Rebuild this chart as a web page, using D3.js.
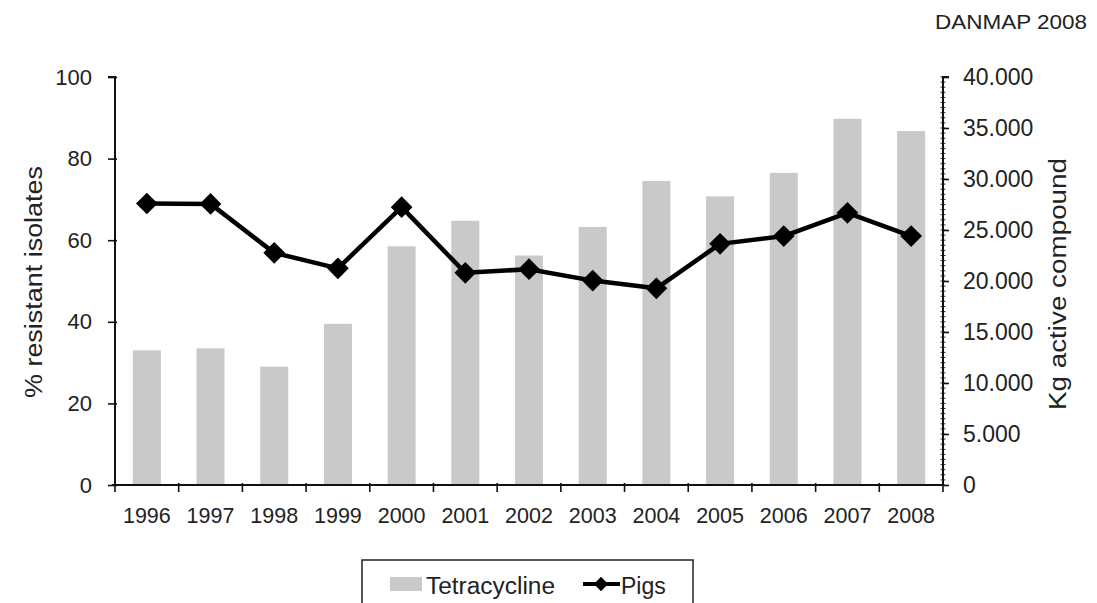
<!DOCTYPE html>
<html>
<head>
<meta charset="utf-8">
<script src="https://cdn.jsdelivr.net/npm/d3@7/dist/d3.min.js"></script>
<style>
  html, body { margin: 0; padding: 0; background: #fff; }
  svg { display: block; }
  text { font-family: "Liberation Sans", Arial, sans-serif; fill: #222; }
</style>
</head>
<body>
<svg id="chart" width="1097" height="603"></svg>
<script>
// Tetracycline use (kg active compound) and resistance in pigs (%)
const years = ["1996", "1997", "1998", "1999", "2000", "2001", "2002",
               "2003", "2004", "2005", "2006", "2007", "2008"];
const tetracyclineKg = [13200, 13400, 11600, 15800, 23400, 25900, 22500,
                        25300, 29800, 28300, 30600, 35900, 34700];
const pigsPct = [69.0, 68.9, 56.9, 53.1, 68.1, 52.0, 52.9,
                 50.1, 48.2, 59.1, 61.0, 66.7, 61.0];
const leftTicks = [0, 20, 40, 60, 80, 100];
const rightTicks = [0, 5000, 10000, 15000, 20000, 25000, 30000, 35000, 40000];
const seriesNames = ["Tetracycline", "Pigs"];
const sourceLabel = "DANMAP 2008";
const leftTitle = "% resistant isolates";
const rightTitle = "Kg active compound";

const svg = d3.select("#chart");
const plot = { left: 115, right: 943, top: 77, bottom: 485 };

const x = d3.scaleBand().domain(years)
  .range([plot.left, plot.right]).paddingInner(0.56).paddingOuter(0.28);
const yL = d3.scaleLinear().domain([0, 100]).range([plot.bottom, plot.top]);
const yR = d3.scaleLinear().domain([0, 40000]).range([plot.bottom, plot.top]);
const cx = d => x(d) + x.bandwidth() / 2;

const dk = d3.formatLocale({ decimal: ",", thousands: ".", grouping: [3], currency: ["", ""] });
const fmtKg = dk.format(",");

// Bars: tetracycline consumption on the right axis
svg.append("g").selectAll("rect").data(years).join("rect")
  .attr("x", d => x(d))
  .attr("width", x.bandwidth())
  .attr("y", (d, i) => yR(tetracyclineKg[i]))
  .attr("height", (d, i) => yR(0) - yR(tetracyclineKg[i]))
  .attr("fill", "#c9c9c9");

// Left axis
const gL = svg.append("g").attr("transform", `translate(${plot.left},0)`)
  .call(d3.axisLeft(yL).tickValues(leftTicks).tickSize(7).tickPadding(16));
gL.select(".domain").attr("d", `M-7,${plot.top}H0V${plot.bottom}`)
  .attr("stroke", "#111").attr("stroke-width", 2);
gL.selectAll(".tick line").attr("stroke", "#111").attr("stroke-width", 1.6).attr("x2", -7).attr("x1", 2);
gL.selectAll(".tick text").attr("font-size", 22).attr("fill", "#222")
  .attr("font-family", "Liberation Sans, Arial, sans-serif");

// Right axis with minor ticks
const minor = d3.range(0, 40001, 500);
svg.append("g").selectAll("line").data(minor).join("line")
  .attr("x1", plot.right - 2.5).attr("x2", plot.right + 2.5)
  .attr("y1", d => yR(d)).attr("y2", d => yR(d))
  .attr("stroke", "#333").attr("stroke-width", 1);
const gR = svg.append("g").attr("transform", `translate(${plot.right},0)`)
  .call(d3.axisRight(yR).tickValues(rightTicks).tickFormat(fmtKg).tickSize(6).tickPadding(14));
gR.select(".domain").attr("d", `M6,${plot.top}H0V${plot.bottom}`)
  .attr("stroke", "#111").attr("stroke-width", 2);
gR.selectAll(".tick line").attr("stroke", "#111").attr("stroke-width", 1.6);
gR.selectAll(".tick text").attr("font-size", 23).attr("fill", "#222")
  .attr("font-family", "Liberation Sans, Arial, sans-serif");

// Bottom axis: ticks between categories
const gB = svg.append("g").attr("transform", `translate(0,${plot.bottom})`)
  .call(d3.axisBottom(x).tickSize(0).tickPadding(23));
gB.select(".domain").attr("d", `M${plot.left - 3},0H${plot.right}`)
  .attr("stroke", "#111").attr("stroke-width", 2);
gB.selectAll(".tick text").attr("font-size", 21.5).attr("fill", "#222")
  .attr("font-family", "Liberation Sans, Arial, sans-serif");
const bounds = years.map(d => x(d) - x.step() * x.paddingInner() / 2).concat([plot.right]);
gB.append("g").selectAll("line").data(bounds).join("line")
  .attr("x1", d => d).attr("x2", d => d).attr("y1", -2).attr("y2", 7)
  .attr("stroke", "#111").attr("stroke-width", 1.6);

// Pigs line with diamond markers on the left axis
const line = d3.line().x(d => cx(d.year)).y(d => yL(d.v));
const pts = years.map((y, i) => ({ year: y, v: pigsPct[i] }));
svg.append("path").datum(pts).attr("d", line)
  .attr("fill", "none").attr("stroke", "#000").attr("stroke-width", 4.5)
  .attr("stroke-linejoin", "round");
const diamond = d3.symbol().type(d3.symbolDiamond2).size(300);
svg.append("g").selectAll("path").data(pts).join("path")
  .attr("d", diamond)
  .attr("transform", d => `translate(${cx(d.year)},${yL(d.v)})`)
  .attr("fill", "#000");

// Axis titles
svg.append("text")
  .attr("transform", `translate(42,282) rotate(-90)`)
  .attr("text-anchor", "middle").attr("font-size", 23)
  .attr("textLength", 232).attr("lengthAdjust", "spacingAndGlyphs")
  .text(leftTitle);
svg.append("text")
  .attr("transform", `translate(1066,284) rotate(-90)`)
  .attr("text-anchor", "middle").attr("font-size", 23)
  .attr("textLength", 252).attr("lengthAdjust", "spacingAndGlyphs")
  .text(rightTitle);

// Source label
svg.append("text").attr("x", 935).attr("y", 29).attr("font-size", 20)
  .attr("textLength", 152).attr("lengthAdjust", "spacingAndGlyphs")
  .text(sourceLabel);

// Legend
const lg = svg.append("g");
lg.append("rect").attr("x", 362).attr("y", 560).attr("width", 331).attr("height", 60)
  .attr("fill", "#fff").attr("stroke", "#222").attr("stroke-width", 1.5);
lg.append("rect").attr("x", 390).attr("y", 577).attr("width", 32).attr("height", 14)
  .attr("fill", "#c9c9c9");
lg.append("text").attr("x", 426).attr("y", 594).attr("font-size", 23)
  .attr("textLength", 129).attr("lengthAdjust", "spacingAndGlyphs")
  .text(seriesNames[0]);
lg.append("line").attr("x1", 583).attr("x2", 620).attr("y1", 584).attr("y2", 584)
  .attr("stroke", "#000").attr("stroke-width", 4);
lg.append("path").attr("d", d3.symbol().type(d3.symbolDiamond2).size(130))
  .attr("transform", "translate(601,584)").attr("fill", "#000");
lg.append("text").attr("x", 621).attr("y", 594).attr("font-size", 23)
  .text(seriesNames[1]);
</script>
</body>
</html>
